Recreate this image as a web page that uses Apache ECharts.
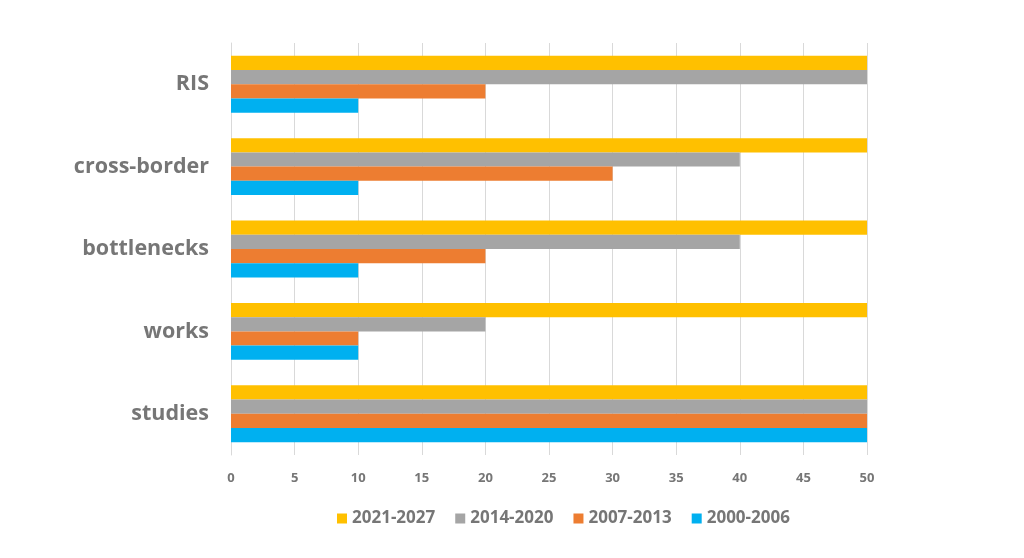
<!DOCTYPE html>
<html><head><meta charset="utf-8">
<script src="https://cdn.jsdelivr.net/npm/echarts@6/dist/echarts.min.js"></script>
<style>html,body{margin:0;padding:0;background:#fff}#c{width:1024px;height:558px}</style>
</head><body><div id="c"></div>
<script>
const categories = ['studies', 'works', 'bottlenecks', 'cross-border', 'RIS'];
const s2000 = [50, 10, 10, 10, 10];
const s2007 = [50, 10, 20, 30, 20];
const s2014 = [50, 20, 40, 40, 50];
const s2021 = [50, 50, 50, 50, 50];
const legendOrder = ['2021-2027', '2014-2020', '2007-2013', '2000-2006'];
const xTicks = [0, 5, 10, 15, 20, 25, 30, 35, 40, 45, 50];

const FONT = '"Open Sans", "Noto Sans", sans-serif';
const TXT = '#767676';
const chart = echarts.init(document.getElementById('c'), null, {renderer: 'canvas'});
chart.setOption({
  animation: false,
  textStyle: {fontFamily: FONT},
  grid: {left: 231, right: 157, top: 43, bottom: 103, containLabel: false},
  legend: {
    data: legendOrder, bottom: 26, left: 332, itemWidth: 10, itemHeight: 10, itemGap: 20,
    icon: 'rect',
    textStyle: {color: TXT, fontSize: 17, fontWeight: 'bold', fontFamily: FONT}
  },
  xAxis: {
    type: 'value', min: xTicks[0], max: xTicks[xTicks.length - 1], interval: 5,
    axisLine: {show: false}, axisTick: {show: false},
    splitLine: {show: true, lineStyle: {color: '#d9d9d9', width: 1}},
    axisLabel: {color: TXT, fontSize: 13, fontWeight: 'bold', margin: 17, fontFamily: FONT}
  },
  yAxis: {
    type: 'category', data: categories,
    axisLine: {show: true, lineStyle: {color: '#d9d9d9'}}, axisTick: {show: false},
    axisLabel: {color: TXT, fontSize: 21.5, fontWeight: 'bold', margin: 22, fontFamily: FONT}
  },
  series: [
    {name: '2021-2027', type: 'bar', data: s2021, itemStyle: {color: '#FFC000'}, barGap: '0%', barCategoryGap: '31%'},
    {name: '2014-2020', type: 'bar', data: s2014, itemStyle: {color: '#A5A5A5'}, barGap: '0%', barCategoryGap: '31%'},
    {name: '2007-2013', type: 'bar', data: s2007, itemStyle: {color: '#ED7D31'}, barGap: '0%', barCategoryGap: '31%'},
    {name: '2000-2006', type: 'bar', data: s2000, itemStyle: {color: '#00B0F0'}, barGap: '0%', barCategoryGap: '31%'}
  ]
});
</script></body></html>
